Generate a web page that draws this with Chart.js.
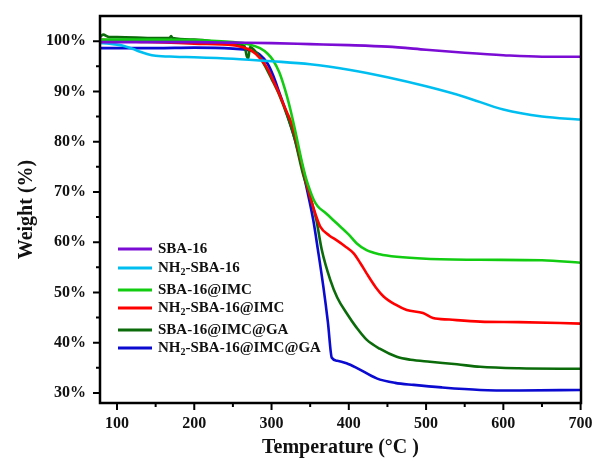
<!DOCTYPE html>
<html>
<head>
<meta charset="utf-8">
<script src="https://cdn.jsdelivr.net/npm/chart.js@4.4.0/dist/chart.umd.min.js"></script>
<style>
html,body{margin:0;padding:0;background:#fff;}
#wrap{width:592px;height:460px;position:relative;}
</style>
</head>
<body>
<div id="wrap"><canvas id="c" width="592" height="460"></canvas></div>
<script>
// ---- data ----
const seriesNames = ['SBA-16', 'NH₂-SBA-16', 'SBA-16@IMC', 'NH₂-SBA-16@IMC', 'SBA-16@IMC@GA', 'NH₂-SBA-16@IMC@GA'];
const seriesColors = ['#7a0cd4', '#00bff0', '#12cc12', '#ff0000', '#0b6b0b', '#0a0ad0'];

const sba16T = [78,100,150,200,250,300,350,400,450,500,550,600,650,700];
const sba16W = [99.8,99.8,99.8,99.8,99.7,99.6,99.4,99.2,98.9,98.3,97.7,97.2,96.9,96.9];

const nh2T = [78,90,100,110,120,130,140,150,175,200,250,300,350,400,450,500,550,600,650,700];
const nh2W = [99.6,99.5,99.3,99.0,98.5,97.9,97.4,97.1,96.9,96.8,96.5,96.0,95.4,94.3,92.8,91.0,88.9,86.4,85.0,84.4];

const imcT = [78,100,150,200,250,270,285,295,302,310,315,320,325,330,335,340,345,350,355,360,370,384,400,410,423,440,462,500,570,650,700];
const imcW = [100.3,100.3,100.3,100.2,99.8,99.4,98.6,97.5,96.2,93.8,91.6,89.0,86.0,82.6,79.0,75.5,72.5,70.2,68.3,67.1,65.8,63.8,61.5,59.8,58.4,57.6,57.1,56.7,56.5,56.4,55.9];

const nh2ImcT = [78,100,125,150,200,250,260,275,285,295,302,310,315,320,325,330,335,341,350,357,363,375,384,395,406,415,423,435,445,460,475,496,509,530,570,620,700];
const nh2ImcW = [100.3,100.1,99.9,99.8,99.5,99.2,98.9,98.0,96.6,94.5,92.2,89.5,87.6,85.8,84.0,81.5,78.3,74.4,69.0,65.5,63.1,61.3,60.4,59.2,57.8,55.8,53.8,51.0,49.2,47.6,46.5,45.9,44.9,44.6,44.2,44.1,43.8];

const imcGaT = [78,82,90,100,150,168,170,172,200,250,265,268,270,272,280,290,300,310,320,330,340,350,358,365,376,385,397,410,423,440,462,480,505,540,570,620,700];
const imcGaW = [100.8,101.3,100.8,100.8,100.6,100.6,101.0,100.6,100.3,99.5,99.0,97.0,96.6,98.8,97.8,95.5,92.5,89.3,85.3,80.5,74.0,69.0,64.4,58.5,52.5,49.0,45.9,43.0,40.6,38.8,37.2,36.6,36.2,35.7,35.2,34.9,34.8];

const nh2ImcGaT = [78,100,150,200,250,270,285,295,302,310,320,330,340,346,354,360,367,373,378,385,397,410,436,460,484,520,570,620,700];
const nh2ImcGaW = [98.6,98.6,98.6,98.7,98.5,98.2,97.3,95.5,93.2,89.8,85.5,80.6,74.5,70.4,64.4,58.5,51.2,44.0,37.0,36.4,35.9,35.0,32.9,32.0,31.6,31.1,30.6,30.5,30.6];

const xTickLabels = [100,200,300,400,500,600,700];
const yTickLabels = [30,40,50,60,70,80,90,100];
const xMinor = [150,250,350,450,550,650];
const yMinor = [35,45,55,65,75,85,95];

const allT = [sba16T, nh2T, imcT, nh2ImcT, imcGaT, nh2ImcGaT];
const allW = [sba16W, nh2W, imcW, nh2ImcW, imcGaW, nh2ImcGaW];

// ---- chart ----
const FONT = '"Liberation Serif", "Times New Roman", serif';

const datasets = seriesNames.map((name, i) => ({
  label: name,
  data: allT[i].map((t, j) => ({x: t, y: allW[i][j]})),
  borderColor: seriesColors[i],
  backgroundColor: seriesColors[i],
  borderWidth: 2.6,
  pointRadius: 0,
  cubicInterpolationMode: 'monotone',
  fill: false,
  order: i
}));

function drawLabel(ctx, text, x, y, size) {
  const parts = text.split('₂');
  let cx = x;
  ctx.textBaseline = 'middle';
  ctx.textAlign = 'left';
  parts.forEach((p, k) => {
    ctx.font = 'bold ' + size + 'px ' + FONT;
    ctx.fillText(p, cx, y);
    cx += ctx.measureText(p).width;
    if (k < parts.length - 1) {
      ctx.font = 'bold ' + Math.round(size * 0.65) + 'px ' + FONT;
      ctx.fillText('2', cx, y + size * 0.3);
      cx += ctx.measureText('2').width;
    }
  });
}

const framePlugin = {
  id: 'frame',
  afterDraw(chart) {
    const ctx = chart.ctx;
    const a = chart.chartArea;
    const xs = chart.scales.x, ys = chart.scales.y;
    ctx.save();
    ctx.strokeStyle = '#000';
    ctx.lineWidth = 2.5;
    ctx.strokeRect(a.left, a.top, a.right - a.left, a.bottom - a.top);
    ctx.lineWidth = 2;
    ctx.beginPath();
    xTickLabels.forEach(v => { const px = xs.getPixelForValue(v); ctx.moveTo(px, a.bottom); ctx.lineTo(px, a.bottom + 7); });
    xMinor.forEach(v => { const px = xs.getPixelForValue(v); ctx.moveTo(px, a.bottom); ctx.lineTo(px, a.bottom + 4); });
    yTickLabels.forEach(v => { const py = ys.getPixelForValue(v); ctx.moveTo(a.left, py); ctx.lineTo(a.left - 7, py); });
    yMinor.forEach(v => { const py = ys.getPixelForValue(v); ctx.moveTo(a.left, py); ctx.lineTo(a.left - 4, py); });
    ctx.stroke();

    // legend
    const rows = [249, 268, 290, 308, 330, 348];
    chart.data.datasets.forEach((d, i) => {
      const y = rows[i];
      ctx.strokeStyle = d.borderColor;
      ctx.lineWidth = 3;
      ctx.beginPath();
      ctx.moveTo(118, y);
      ctx.lineTo(152, y);
      ctx.stroke();
      ctx.fillStyle = '#111';
      drawLabel(ctx, d.label, 158, y, 15);
    });
    ctx.restore();
  }
};

new Chart(document.getElementById('c'), {
  type: 'line',
  data: { datasets },
  plugins: [framePlugin],
  options: {
    responsive: false,
    animation: false,
    devicePixelRatio: 1,
    layout: { padding: { left: 0, right: 11, top: 16, bottom: 0 } },
    plugins: { legend: { display: false }, tooltip: { enabled: false } },
    scales: {
      x: {
        type: 'linear',
        min: 78, max: 700.5,
        grid: { display: false, drawTicks: false },
        border: { display: false },
        afterBuildTicks: s => { s.ticks = xTickLabels.map(v => ({ value: v })); },
        afterFit: s => { s.height = 57; s.paddingLeft = 0; s.paddingRight = 0; },
        ticks: {
          padding: 11,
          color: '#111',
          font: { family: FONT, size: 16, weight: 'bold' },
          maxRotation: 0,
          callback: v => String(v)
        },
        title: {
          display: true,
          text: 'Temperature (°C )',
          color: '#111',
          font: { family: FONT, size: 20, weight: 'bold' },
          padding: { top: 3, bottom: 0 }
        }
      },
      y: {
        type: 'linear',
        min: 28, max: 105,
        grid: { display: false, drawTicks: false },
        border: { display: false },
        afterBuildTicks: s => { s.ticks = yTickLabels.map(v => ({ value: v })); },
        afterFit: s => { s.width = 100; s.paddingTop = 0; s.paddingBottom = 0; },
        ticks: {
          padding: 14,
          color: '#111',
          font: { family: FONT, size: 16, weight: 'bold' },
          callback: v => v + '%'
        },
        title: {
          display: true,
          text: 'Weight (%)',
          color: '#111',
          font: { family: FONT, size: 20, weight: 'bold' },
          padding: { top: 15, bottom: 0 }
        }
      }
    }
  }
});
</script>
</body>
</html>
